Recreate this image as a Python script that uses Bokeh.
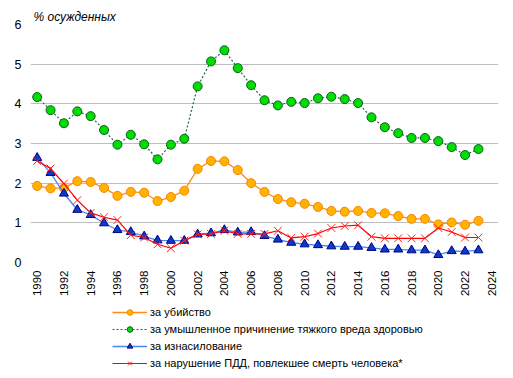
import math
from bokeh.plotting import figure
from bokeh.layouts import column
from bokeh.models import Legend, LegendItem, FixedTicker, Range1d
from bokeh.embed import file_html
from bokeh.resources import INLINE

years = list(range(1990, 2024))

murder = [1.93, 1.87, 1.88, 2.05, 2.03, 1.88, 1.68, 1.78, 1.76, 1.55, 1.65, 1.81,
          2.36, 2.56, 2.55, 2.33, 2.00, 1.78, 1.60, 1.52, 1.48, 1.40, 1.30, 1.28,
          1.30, 1.25, 1.24, 1.17, 1.10, 1.10, 0.96, 1.01, 0.95, 1.05]

grave_harm = [4.17, 3.84, 3.51, 3.81, 3.69, 3.34, 2.97, 3.22, 2.98, 2.60, 2.97, 3.12,
              4.44, 5.07, 5.35, 4.90, 4.47, 4.09, 3.96, 4.05, 4.02, 4.14, 4.18, 4.12,
              4.02, 3.66, 3.41, 3.26, 3.14, 3.14, 3.06, 2.91, 2.71, 2.86]

rape = [2.64, 2.26, 1.74, 1.33, 1.20, 0.99, 0.82, 0.77, 0.66, 0.56, 0.55, 0.55,
        0.71, 0.74, 0.82, 0.76, 0.77, 0.67, 0.58, 0.50, 0.46, 0.44, 0.41, 0.40,
        0.40, 0.37, 0.33, 0.33, 0.31, 0.31, 0.19, 0.29, 0.28, 0.31]

traffic = [2.56, 2.37, 1.99, 1.57, 1.25, 1.14, 1.07, 0.69, 0.63, 0.46, 0.36, 0.55,
           0.71, 0.72, 0.80, 0.72, 0.72, 0.72, 0.80, 0.62, 0.65, 0.73, 0.87, 0.92,
           0.94, 0.65, 0.61, 0.61, 0.61, 0.61, 0.87, 0.77, 0.63, 0.63]

labels = ["за убийство",
          "за умышленное причинение тяжкого вреда здоровью",
          "за изнасилование",
          "за нарушение ПДД, повлекшее смерть человека*"]

y_title = "% осужденных"
x_ticks = list(range(1990, 2025, 2))
y_ticks = [0, 1, 2, 3, 4, 5, 6]

FONT = "Liberation Sans"

styles = [
    dict(line=dict(line_color="#FF8C1A", line_width=1.3),
         marker=dict(marker="circle", fill_color="#FFB400", line_color="#FF8000", line_width=1)),
    dict(line=dict(line_color="#1E6B3C", line_width=1.2, line_dash="2 2"),
         marker=dict(marker="circle", fill_color="#00DD00", line_color="#0B5E1E", line_width=1)),
    dict(line=dict(line_color="#4A86F0", line_width=1.3),
         marker=dict(marker="triangle", fill_color="#0A3CC8", line_color="#000080", line_width=1)),
    dict(line=dict(line_color="#FF0000", line_width=1.2),
         marker=dict(marker="x", line_color="#FF2020", line_width=1)),
]
sizes = [9, 9, 9, 11]
series = [murder, grave_harm, rape, traffic]

p = figure(width=513, height=300, output_backend="svg",
           toolbar_location=None, x_range=Range1d(1989.5, 2024.5),
           y_range=Range1d(0, 6),
           min_border_left=30, min_border_top=24, min_border_right=15,
           min_border_bottom=38)
p.outline_line_color = None
p.xgrid.grid_line_color = None
p.ygrid.grid_line_color = "#BEBEBE"
p.ygrid.grid_line_width = 1

p.title.text = y_title
p.title.text_font = FONT
p.title.text_font_size = "12px"
p.title.text_font_style = "italic"
p.title.text_color = "#000000"
p.title.align = "left"
p.title.offset = 3
p.title.standoff = 2

p.xaxis.ticker = FixedTicker(ticks=x_ticks)
p.yaxis.ticker = FixedTicker(ticks=y_ticks)
for ax in (p.xaxis[0], p.yaxis[0]):
    ax.axis_line_color = None
    ax.major_tick_line_color = None
    ax.minor_tick_line_color = None
    ax.major_tick_out = 0
    ax.major_tick_in = 0
    ax.minor_tick_out = 0
    ax.minor_tick_in = 0
    ax.major_label_text_font = FONT
    ax.major_label_text_font_size = "11.5px"
    ax.major_label_text_color = "#000000"
p.yaxis.major_label_text_font_size = "12.5px"
p.xaxis.major_label_orientation = math.pi / 2
p.xaxis.major_label_standoff = 8
p.yaxis.major_label_standoff = 9

for vals, st, sz in zip(series, styles, sizes):
    p.line(years, vals, **st["line"])
    p.scatter(years, vals, size=sz, **st["marker"])

# legend panel (separate canvas below the chart)
q = figure(width=513, height=78, output_backend="svg", toolbar_location=None,
           x_axis_location=None, y_axis_location=None,
           min_border_left=0, min_border_right=0, min_border_top=0,
           min_border_bottom=0, x_range=Range1d(0, 1), y_range=Range1d(0, 1))
q.outline_line_color = None
q.grid.visible = False

items = []
for lab, st, sz in zip(labels, styles, sizes):
    # off-range placeholder points: only used to draw the legend swatch
    lr = q.line([5, 6], [5, 6], **st["line"])
    mr = q.scatter([5], [5], size=sz, **st["marker"])
    items.append(LegendItem(label=lab, renderers=[lr, mr]))

legend = Legend(items=items, location=(82, 8), orientation="vertical",
                glyph_width=35, glyph_height=14, label_height=14,
                spacing=3, padding=0, margin=0, label_standoff=3,
                label_text_font=FONT, label_text_font_size="11px",
                label_text_color="#000000",
                border_line_color=None, background_fill_alpha=0)
q.add_layout(legend, "center")

layout = column(p, q, spacing=0)
open("out.html", "w").write(file_html(layout, INLINE))
